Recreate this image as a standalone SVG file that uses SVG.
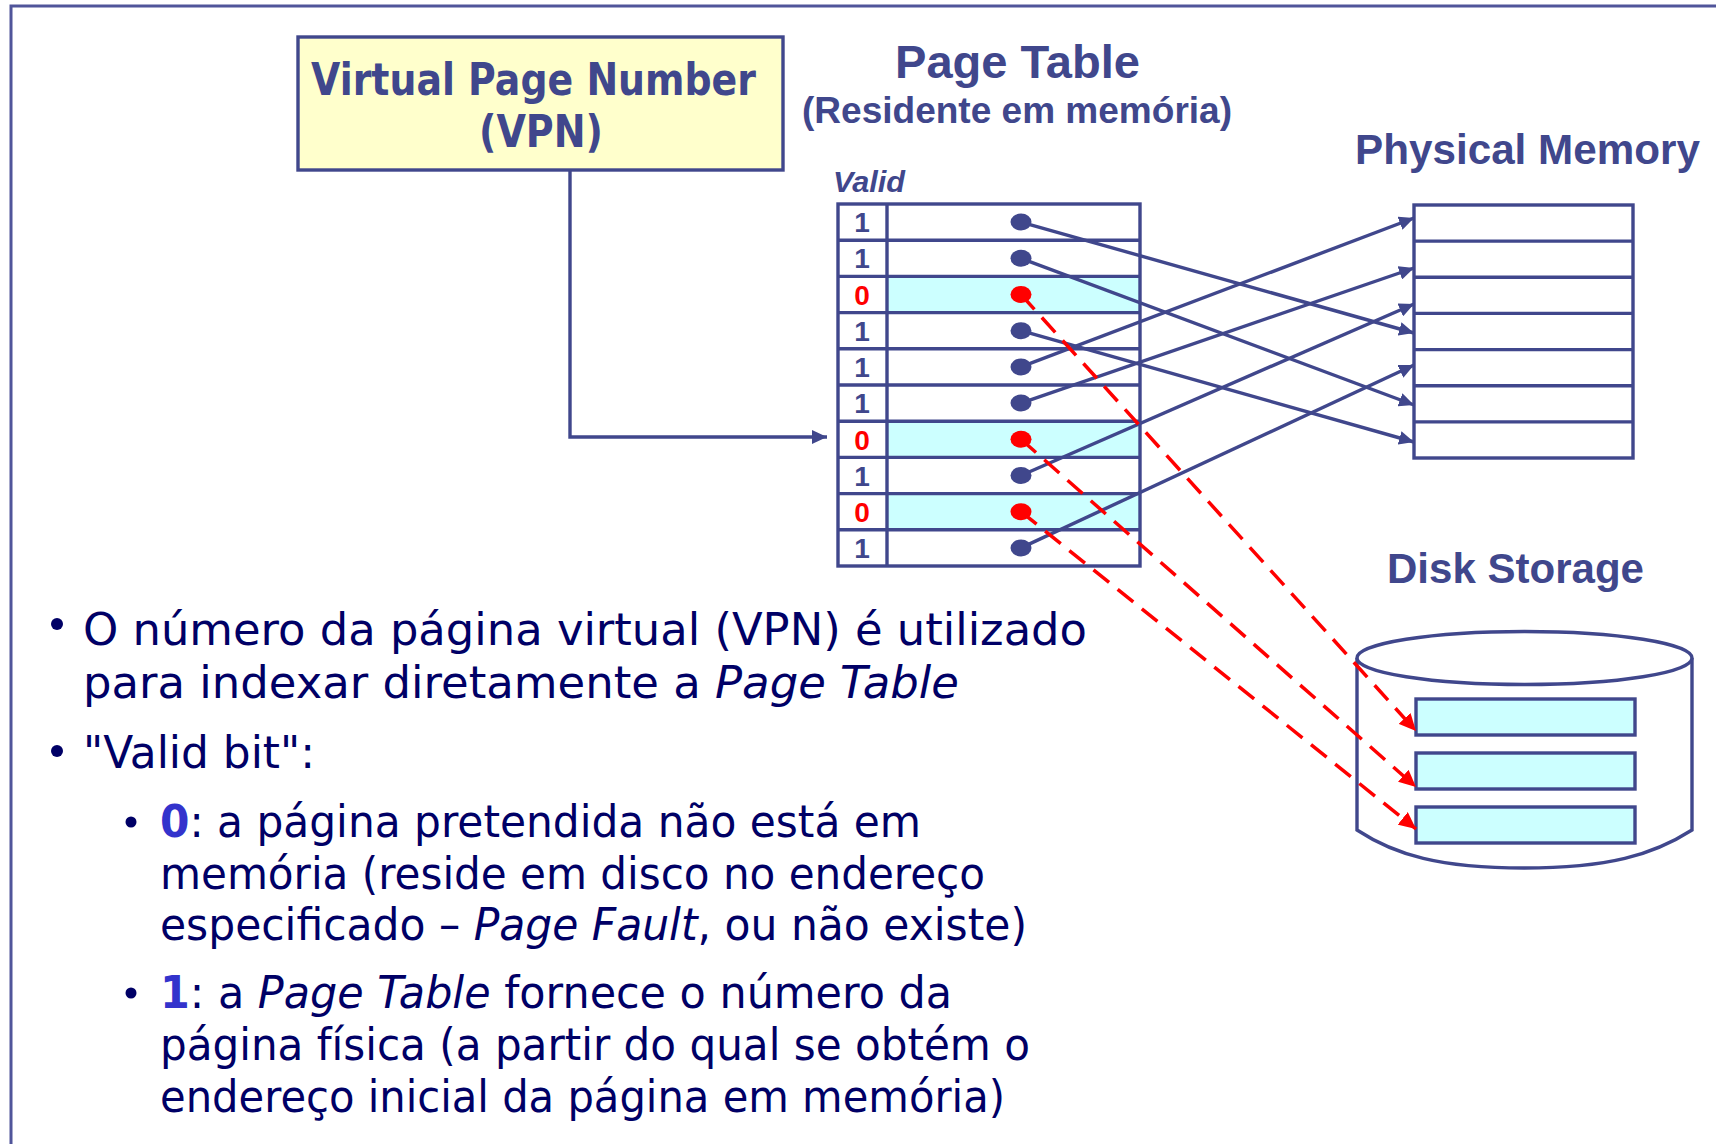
<svg xmlns="http://www.w3.org/2000/svg" width="1716" height="1144" viewBox="0 0 1716 1144">
<style>
.blue{stroke:#40478C;stroke-width:3.4;fill:none}
.cyan{stroke:#40478C;stroke-width:3.4;fill:#CCFFFF}
.white{stroke:#40478C;stroke-width:3.4;fill:#FFFFFF}
.lbl{font-family:"Liberation Sans",Arial,sans-serif;font-weight:bold;fill:#40478C}
.body{font-family:"DejaVu Sans","Liberation Sans",sans-serif;font-size:45px;fill:#000066}
.it{font-style:italic}
.dig{font-family:"Liberation Sans",Arial,sans-serif;font-weight:bold;font-size:28px;text-anchor:middle}
.b1{fill:#40478C}
.b0{fill:#FF0000}
.dotb{fill:#40478C}
.dotr{fill:#FF0000}
.conn{stroke:#40478C;stroke-width:3.4;fill:none}
.red{stroke:#FF0000;stroke-width:3.5;fill:none;stroke-dasharray:20 11}
.num{font-weight:bold;fill:#3333CC}
</style>
<defs>
<marker id="ab" markerUnits="userSpaceOnUse" markerWidth="16" markerHeight="14" refX="15" refY="7" orient="auto">
<path d="M0,0 L15,7 L0,14 z" fill="#40478C"/>
</marker>
<marker id="ar" markerUnits="userSpaceOnUse" markerWidth="18" markerHeight="16" refX="17" refY="8" orient="auto">
<path d="M0,0 L17,8 L0,16 z" fill="#FF0000"/>
</marker>
</defs>
<rect width="1716" height="1144" fill="#FFFFFF"/>
<path d="M11,1150 L11,6 L1720,6" stroke="#50559A" stroke-width="3" fill="none"/>

<g id="vpn">
<rect x="298" y="37" width="485" height="133" fill="#FFFFCC" stroke="#40478C" stroke-width="3.4"/>
<text x="311" y="95" font-family="DejaVu Sans,sans-serif" font-weight="bold" font-size="44" fill="#40478C" textLength="445" lengthAdjust="spacingAndGlyphs">Virtual Page Number</text>
<text x="479" y="147" font-family="DejaVu Sans,sans-serif" font-weight="bold" font-size="44" fill="#40478C" textLength="124" lengthAdjust="spacingAndGlyphs">(VPN)</text>
</g>

<g id="page-table-title">
<text class="lbl" x="895" y="78" font-size="46" textLength="245" lengthAdjust="spacingAndGlyphs">Page Table</text>
<text class="lbl" x="802" y="123" font-size="37" textLength="430" lengthAdjust="spacingAndGlyphs">(Residente em memória)</text>
</g>

<g id="page-table">
<text class="lbl" x="833" y="192" font-size="30" font-style="italic" textLength="72" lengthAdjust="spacingAndGlyphs">Valid</text>
<rect x="887" y="276.4" width="253" height="36.2" fill="#CCFFFF"/>
<rect x="887" y="421.2" width="253" height="36.2" fill="#CCFFFF"/>
<rect x="887" y="493.6" width="253" height="36.2" fill="#CCFFFF"/>
<rect class="blue" x="838" y="204" width="302" height="362"/>
<line class="blue" x1="887" y1="204" x2="887" y2="566"/>
<path class="blue" d="M838,240.2H1140M838,276.4H1140M838,312.6H1140M838,348.8H1140M838,385H1140M838,421.2H1140M838,457.4H1140M838,493.6H1140M838,529.8H1140"/>
<text class="dig b1" x="862" y="232">1</text>
<text class="dig b1" x="862" y="268">1</text>
<text class="dig b0" x="862" y="305">0</text>
<text class="dig b1" x="862" y="341">1</text>
<text class="dig b1" x="862" y="377">1</text>
<text class="dig b1" x="862" y="413">1</text>
<text class="dig b0" x="862" y="450">0</text>
<text class="dig b1" x="862" y="486">1</text>
<text class="dig b0" x="862" y="522">0</text>
<text class="dig b1" x="862" y="558">1</text>
</g>

<g id="physical-memory">
<text class="lbl" x="1355" y="164" font-size="42" textLength="345" lengthAdjust="spacingAndGlyphs">Physical Memory</text>
<rect class="blue" x="1414" y="205" width="219" height="253"/>
<path class="blue" d="M1414,241.1H1633M1414,277.3H1633M1414,313.4H1633M1414,349.6H1633M1414,385.7H1633M1414,421.9H1633"/>
</g>

<g id="disk-storage">
<text class="lbl" x="1387" y="583" font-size="42" textLength="257" lengthAdjust="spacingAndGlyphs">Disk Storage</text>
<path class="white" d="M1357,658 L1357,830 C1395,855 1440,868 1524,868 C1608,868 1653,855 1692,830 L1692,658"/>
<ellipse class="white" cx="1524.5" cy="658" rx="167.5" ry="26.5"/>
<rect class="cyan" x="1416" y="699" width="219" height="36"/>
<rect class="cyan" x="1416" y="753" width="219" height="36"/>
<rect class="cyan" x="1416" y="807" width="219" height="36"/>
</g>

<g id="connectors">
<path class="conn" d="M570,170 L570,437 L827,437" marker-end="url(#ab)"/>
<line class="conn" x1="1021" y1="222.1" x2="1414" y2="333" marker-end="url(#ab)"/>
<line class="conn" x1="1021" y1="258.3" x2="1414" y2="405" marker-end="url(#ab)"/>
<line class="conn" x1="1021" y1="330.7" x2="1414" y2="442" marker-end="url(#ab)"/>
<line class="conn" x1="1021" y1="366.9" x2="1414" y2="218" marker-end="url(#ab)"/>
<line class="conn" x1="1021" y1="403.1" x2="1414" y2="268" marker-end="url(#ab)"/>
<line class="conn" x1="1021" y1="475.5" x2="1414" y2="304" marker-end="url(#ab)"/>
<line class="conn" x1="1021" y1="547.9" x2="1414" y2="365" marker-end="url(#ab)"/>
<line class="red" x1="1021" y1="294.5" x2="1416" y2="731" marker-end="url(#ar)"/>
<line class="red" x1="1021" y1="439.3" x2="1416" y2="787" marker-end="url(#ar)"/>
<line class="red" x1="1021" y1="511.7" x2="1416" y2="829" marker-end="url(#ar)"/>
</g>

<g id="dots">
<ellipse class="dotb" cx="1021" cy="222.1" rx="10.5" ry="8.5"/>
<ellipse class="dotb" cx="1021" cy="258.3" rx="10.5" ry="8.5"/>
<ellipse class="dotr" cx="1021" cy="294.5" rx="10.5" ry="8.5"/>
<ellipse class="dotb" cx="1021" cy="330.7" rx="10.5" ry="8.5"/>
<ellipse class="dotb" cx="1021" cy="366.9" rx="10.5" ry="8.5"/>
<ellipse class="dotb" cx="1021" cy="403.1" rx="10.5" ry="8.5"/>
<ellipse class="dotr" cx="1021" cy="439.3" rx="10.5" ry="8.5"/>
<ellipse class="dotb" cx="1021" cy="475.5" rx="10.5" ry="8.5"/>
<ellipse class="dotr" cx="1021" cy="511.7" rx="10.5" ry="8.5"/>
<ellipse class="dotb" cx="1021" cy="547.9" rx="10.5" ry="8.5"/>
</g>

<g id="bullets">
<circle cx="57" cy="624" r="6" fill="#000066"/>
<circle cx="57" cy="751" r="6" fill="#000066"/>
<circle cx="131" cy="822" r="5.5" fill="#000066"/>
<circle cx="131" cy="993" r="5.5" fill="#000066"/>
<text class="body" x="83" y="645" textLength="1004" lengthAdjust="spacingAndGlyphs">O número da página virtual (VPN) é utilizado</text>
<text class="body" x="83" y="698" textLength="876" lengthAdjust="spacingAndGlyphs">para indexar diretamente a <tspan class="it">Page Table</tspan></text>
<text class="body" x="83" y="768" textLength="232" lengthAdjust="spacingAndGlyphs">"Valid bit":</text>
<text class="body" x="160" y="837" textLength="761" lengthAdjust="spacingAndGlyphs"><tspan class="num">0</tspan>: a página pretendida não está em</text>
<text class="body" x="160" y="889" textLength="825" lengthAdjust="spacingAndGlyphs">memória (reside em disco no endereço</text>
<text class="body" x="160" y="940" textLength="867" lengthAdjust="spacingAndGlyphs">especificado – <tspan class="it">Page Fault</tspan>, ou não existe)</text>
<text class="body" x="160" y="1008" textLength="792" lengthAdjust="spacingAndGlyphs"><tspan class="num">1</tspan>: a <tspan class="it">Page Table</tspan> fornece o número da</text>
<text class="body" x="160" y="1060" textLength="870" lengthAdjust="spacingAndGlyphs">página física (a partir do qual se obtém o</text>
<text class="body" x="160" y="1112" textLength="845" lengthAdjust="spacingAndGlyphs">endereço inicial da página em memória)</text>
</g>
</svg>
